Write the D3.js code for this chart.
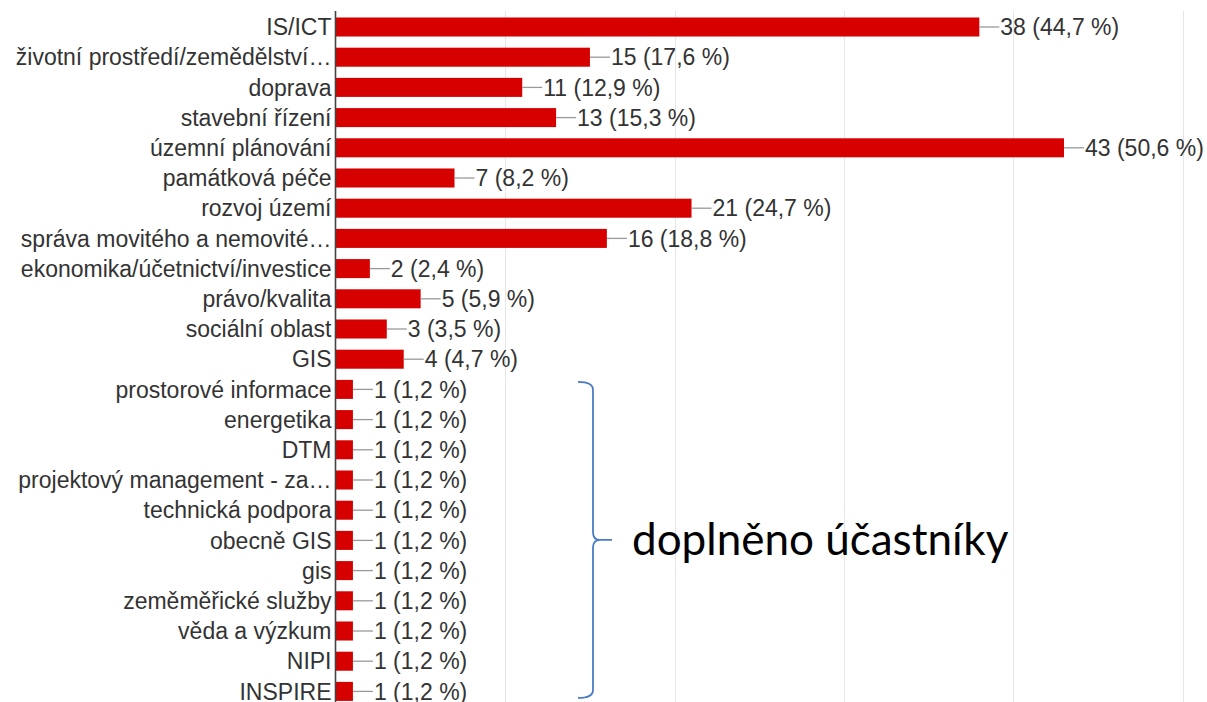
<!DOCTYPE html>
<html><head><meta charset="utf-8">
<script src="https://cdn.jsdelivr.net/npm/d3@7"></script>
<style>body{margin:0;background:#fff;} svg{display:block;}</style>
</head><body>
<svg id="chart" width="1207" height="702"></svg>
<script>
const categories = ["IS/ICT","životní prostředí/zemědělství…","doprava","stavební řízení","územní plánování","památková péče","rozvoj území","správa movitého a nemovité…","ekonomika/účetnictví/investice","právo/kvalita","sociální oblast","GIS","prostorové informace","energetika","DTM","projektový management - za…","technická podpora","obecně GIS","gis","zeměměřické služby","věda a výzkum","NIPI","INSPIRE"];
const counts = [38,15,11,13,43,7,21,16,2,5,3,4,1,1,1,1,1,1,1,1,1,1,1];
const percents = [44.7,17.6,12.9,15.3,50.6,8.2,24.7,18.8,2.4,5.9,3.5,4.7,1.2,1.2,1.2,1.2,1.2,1.2,1.2,1.2,1.2,1.2,1.2];
const gridTicks = [10,20,30,40,50];
const annotation = "doplněno účastníky";
const bracketFrom = "prostorové informace", bracketTo = "INSPIRE";

const svg = d3.select("#chart");
const x0 = 336;
const x = d3.scaleLinear().domain([0,50]).range([x0, 1182.5]);
const y = d3.scaleBand().domain(categories).range([11.9, 706.5]).paddingInner(0.37).paddingOuter(0.185);
const font = "'Liberation Sans', Arial, sans-serif";
const fs = 23;

// gridlines
svg.append("g").selectAll("line").data(gridTicks).join("line")
  .attr("x1", d=>Math.round(x(d))+0.5).attr("x2", d=>Math.round(x(d))+0.5)
  .attr("y1", 11).attr("y2", 702)
  .attr("stroke", "#e6e6e6").attr("stroke-width", 1);

const data = categories.map((c,i)=>({c, v:counts[i], p:percents[i]}));

// bars
svg.append("g").selectAll("rect").data(data).join("rect")
  .attr("x", x0).attr("y", d=>y(d.c))
  .attr("width", d=>x(d.v)-x0).attr("height", y.bandwidth())
  .attr("fill", "#d60000");

// leader lines
svg.append("g").selectAll("line").data(data).join("line")
  .attr("x1", d=>x(d.v)).attr("x2", d=>x(d.v)+20)
  .attr("y1", d=>y(d.c)+y.bandwidth()/2).attr("y2", d=>y(d.c)+y.bandwidth()/2)
  .attr("stroke", "#999").attr("stroke-width", 1.3);

// value labels
svg.append("g").selectAll("text").data(data).join("text")
  .attr("x", d=>x(d.v)+21).attr("y", d=>y(d.c)+y.bandwidth()/2)
  .attr("dy", "0.36em")
  .attr("font-family", font).attr("font-size", fs).attr("fill", "#333")
  .text(d=>`${d.v} (${d3.format(".1f")(d.p).replace(".", ",")} %)`);

// y axis
const yAxis = d3.axisLeft(y).tickSize(0).tickPadding(4);
const ga = svg.append("g").attr("transform", `translate(${x0-0.5},0)`).call(yAxis);
ga.select(".domain").remove();
ga.selectAll("text").attr("font-family", font).attr("font-size", fs).attr("fill", "#333").attr("dy","0.36em");
svg.append("line").attr("x1", x0-0.5).attr("x2", x0-0.5).attr("y1", 11).attr("y2", 702)
  .attr("stroke", "#444").attr("stroke-width", 1.6);

// bracket annotation
const yTop = y(bracketFrom) + 2, yBot = y(bracketTo) + y.bandwidth() - 3;
const bx = 593, mid = (yTop + yBot)/2;
svg.append("path")
  .attr("d", `M578,${yTop} Q${bx},${yTop} ${bx},${yTop+8} L${bx},${mid-8} Q${bx},${mid} ${bx+7},${mid} L612,${mid} M${bx+7},${mid} Q${bx},${mid} ${bx},${mid+8} L${bx},${yBot-8} Q${bx},${yBot} 578,${yBot}`)
  .attr("fill","none").attr("stroke","#4a7cc4").attr("stroke-width",1.8);
svg.append("text").attr("x", 632).attr("y", 555)
  .attr("font-family", "Lato, 'Open Sans', sans-serif").attr("font-size", 44).attr("fill", "#000")
  .text(annotation);
</script>
</body></html>
